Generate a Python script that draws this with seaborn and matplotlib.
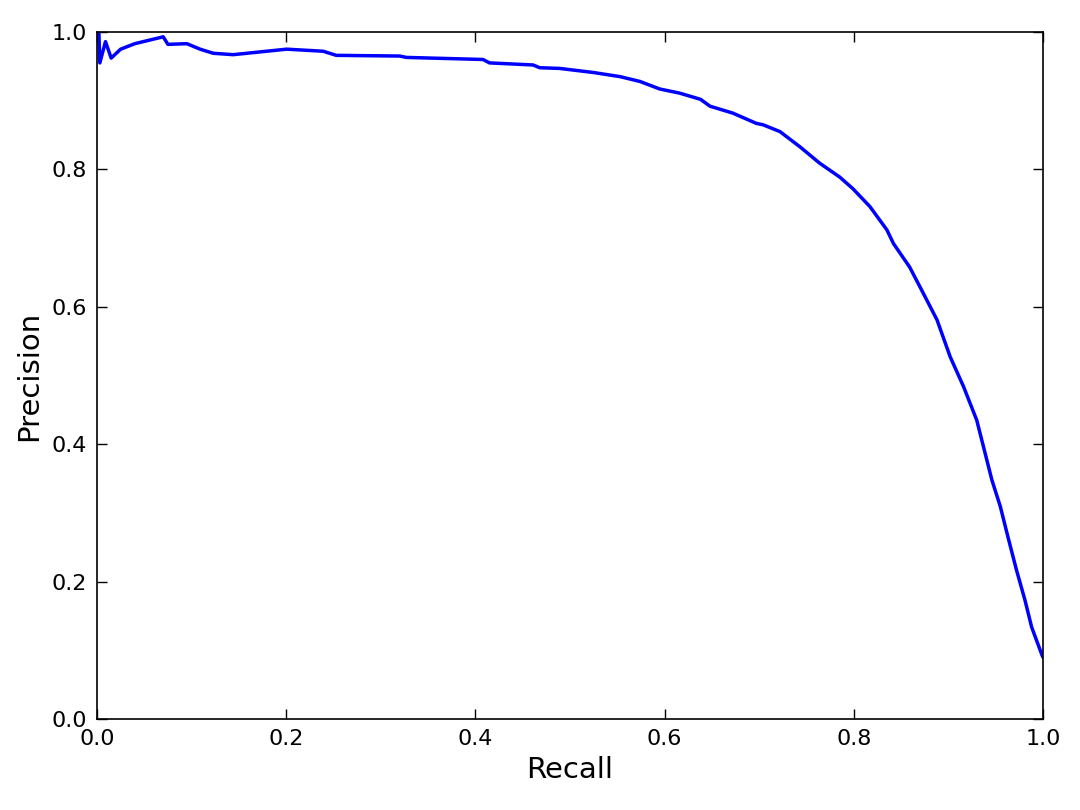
import matplotlib
matplotlib.use("Agg")
import matplotlib.pyplot as plt
import seaborn as sns
import pandas as pd

recall = [0.002, 0.003, 0.009, 0.015, 0.025, 0.04, 0.07, 0.075, 0.095, 0.109,
          0.123, 0.144, 0.2005, 0.239, 0.253, 0.32, 0.327, 0.408, 0.415, 0.461,
          0.468, 0.489, 0.525, 0.553, 0.574, 0.595, 0.616, 0.638, 0.648, 0.672,
          0.697, 0.704, 0.722, 0.743, 0.764, 0.785, 0.799, 0.817, 0.835, 0.842,
          0.859, 0.870, 0.888, 0.902, 0.916, 0.930, 0.937, 0.946, 0.955, 0.963,
          0.972, 0.981, 0.988, 0.999, 1.0]
precision = [1.0, 0.955, 0.986, 0.962, 0.975, 0.983, 0.993, 0.982, 0.983, 0.975,
             0.969, 0.967, 0.975, 0.972, 0.966, 0.965, 0.963, 0.960, 0.955, 0.952,
             0.948, 0.947, 0.941, 0.935, 0.928, 0.917, 0.911, 0.902, 0.892, 0.882,
             0.867, 0.865, 0.855, 0.833, 0.809, 0.789, 0.772, 0.746, 0.712, 0.692,
             0.658, 0.629, 0.581, 0.527, 0.484, 0.435, 0.397, 0.348, 0.309, 0.265,
             0.217, 0.173, 0.134, 0.093, 0.090]

x_ticks = [0.0, 0.2, 0.4, 0.6, 0.8, 1.0]
y_ticks = [0.0, 0.2, 0.4, 0.6, 0.8, 1.0]

sns.set_style("ticks", {"xtick.direction": "in", "ytick.direction": "in"})
plt.rcParams["font.family"] = ["DejaVu Sans"]
plt.rcParams["text.color"] = "black"
plt.rcParams["axes.labelcolor"] = "black"
plt.rcParams["xtick.color"] = "black"
plt.rcParams["ytick.color"] = "black"

df = pd.DataFrame({"Recall": recall, "Precision": precision})

fig = plt.figure(figsize=(10.8, 8.1), dpi=100)
ax = fig.add_axes([0.0898, 0.1123, 0.8759, 0.8482])
sns.lineplot(data=df, x="Recall", y="Precision", sort=False, estimator=None,
             color="#0000ff", linewidth=2.5, ax=ax)

ax.set_xlim(0, 1)
ax.set_ylim(0, 1)
ax.set_xticks(x_ticks)
ax.set_yticks(y_ticks)
ax.set_xticklabels([f"{t:.1f}" for t in x_ticks])
ax.set_yticklabels([f"{t:.1f}" for t in y_ticks])
ax.tick_params(axis="both", which="major", direction="in", length=7, width=1,
               labelsize=16, top=True, right=True, colors="black", pad=7)
for s in ax.spines.values():
    s.set_visible(True)
    s.set_linewidth(1.2)
    s.set_color("black")
ax.set_xlabel("Recall", fontsize=21, labelpad=5)
ax.set_ylabel("Precision", fontsize=21, labelpad=6)

fig.savefig("out.png", dpi=100, facecolor="white")
